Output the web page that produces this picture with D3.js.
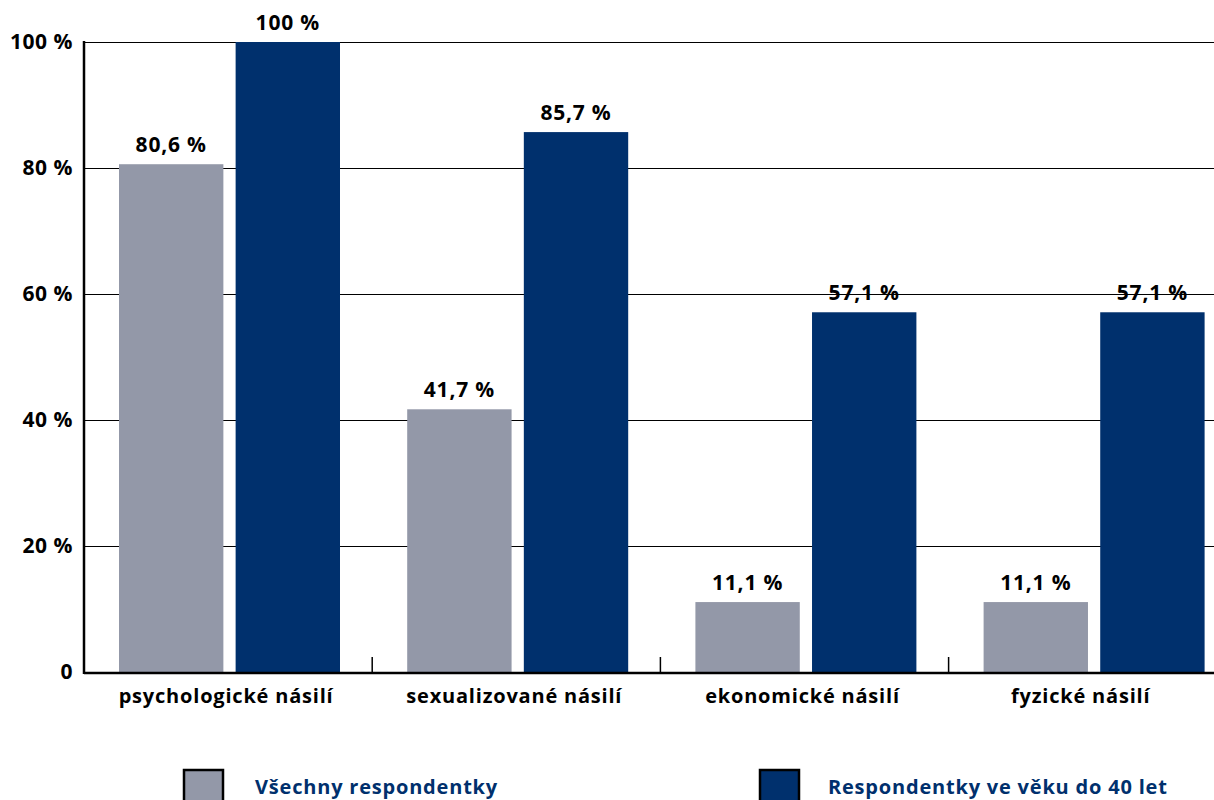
<!DOCTYPE html>
<html>
<head>
<meta charset="utf-8">
<script src="https://cdn.jsdelivr.net/npm/d3@7"></script>
<style>
  body { margin: 0; background: #fff; }
  text { font-family: "Open Sans", "Noto Sans", sans-serif; font-weight: bold; }
</style>
</head>
<body>
<div class="chart"></div>
<script>
const categories = ['psychologické násilí', 'sexualizované násilí', 'ekonomické násilí', 'fyzické násilí']
const series = ['Všechny respondentky', 'Respondentky ve věku do 40 let']
const allValues = [80.6, 41.7, 11.1, 11.1]
const under40Values = [100, 85.7, 57.1, 57.1]
const yTicks = [0, 20, 40, 60, 80, 100]
const colors = ['#9398a8', '#00306d']

const width = 1214
const height = 800
const plotLeft = 84
const plotTop = 42
const plotBottom = 672

const svg = d3.select('.chart')
  .append('svg')
  .attr('width', width)
  .attr('height', height)

const x = d3.scaleBand()
  .domain(categories)
  .range([plotLeft, plotLeft + 4 * 288.2])

const x1 = d3.scaleBand()
  .domain(series)
  .range([35, 256])
  .paddingInner(0.105)

const y = d3.scaleLinear()
  .domain([0, 100])
  .range([plotBottom, plotTop])

// gridlines
svg.selectAll('.grid')
  .data(yTicks.filter(t => t > 0))
  .enter()
  .append('line')
  .attr('x1', plotLeft)
  .attr('x2', width)
  .attr('y1', d => y(d) + 0.5)
  .attr('y2', d => y(d) + 0.5)
  .attr('stroke', '#000')
  .attr('stroke-width', 1)

// y labels
svg.selectAll('.ylab')
  .data(yTicks)
  .enter()
  .append('text')
  .attr('x', 73)
  .attr('y', d => y(d) + 7)
  .attr('text-anchor', 'end')
  .attr('font-size', 21)
  .attr('letter-spacing', 0.5)
  .text(d => d === 0 ? '0' : d + ' %')

const rows = categories.map((c, i) => ({ cat: c, vals: [allValues[i], under40Values[i]] }))

const groups = svg.selectAll('.group')
  .data(rows)
  .enter()
  .append('g')
  .attr('transform', d => `translate(${x(d.cat)},0)`)

groups.selectAll('rect')
  .data(d => d.vals.map((v, j) => ({ s: series[j], v: v, j: j })))
  .enter()
  .append('rect')
  .attr('x', d => x1(d.s))
  .attr('y', d => y(d.v))
  .attr('width', x1.bandwidth())
  .attr('height', d => plotBottom - y(d.v))
  .attr('fill', d => colors[d.j])

groups.selectAll('.val')
  .data(d => d.vals.map((v, j) => ({ s: series[j], v: v })))
  .enter()
  .append('text')
  .attr('x', d => x1(d.s) + x1.bandwidth() / 2)
  .attr('y', d => y(d.v) - 12)
  .attr('text-anchor', 'middle')
  .attr('font-size', 21)
  .attr('letter-spacing', 0.8)
  .text(d => String(d.v).replace('.', ',') + ' %')

// axes lines
svg.append('line')
  .attr('x1', plotLeft).attr('x2', plotLeft)
  .attr('y1', plotTop - 1).attr('y2', plotBottom + 2)
  .attr('stroke', '#000').attr('stroke-width', 2.5)
svg.append('line')
  .attr('x1', plotLeft).attr('x2', width)
  .attr('y1', plotBottom + 1).attr('y2', plotBottom + 1)
  .attr('stroke', '#000').attr('stroke-width', 2.5)

// category separators
svg.selectAll('.sep')
  .data(categories.slice(1))
  .enter()
  .append('line')
  .attr('x1', d => x(d))
  .attr('x2', d => x(d))
  .attr('y1', plotBottom - 15)
  .attr('y2', plotBottom)
  .attr('stroke', '#000')
  .attr('stroke-width', 1.5)

// category labels (last one sits a bit left, like the original)
svg.selectAll('.cat')
  .data(categories)
  .enter()
  .append('text')
  .attr('x', (d, i) => x(d) + x.bandwidth() / 2 - (i === 3 ? 12 : 2))
  .attr('y', 703)
  .attr('text-anchor', 'middle')
  .attr('font-size', 20)
  .attr('letter-spacing', 0.8)
  .text(d => d)

// legend
const legendX = [183, 759]
const legendTextX = [255, 828]
series.forEach((s, i) => {
  svg.append('rect')
    .attr('x', legendX[i] + 1)
    .attr('y', 770)
    .attr('width', 39)
    .attr('height', 40)
    .attr('fill', colors[i])
    .attr('stroke', '#000')
    .attr('stroke-width', 2.5)
  svg.append('text')
    .attr('x', legendTextX[i])
    .attr('y', 794)
    .attr('font-size', 20)
    .attr('letter-spacing', 0.8)
    .attr('fill', '#00306d')
    .text(s)
})
</script>
</body>
</html>
